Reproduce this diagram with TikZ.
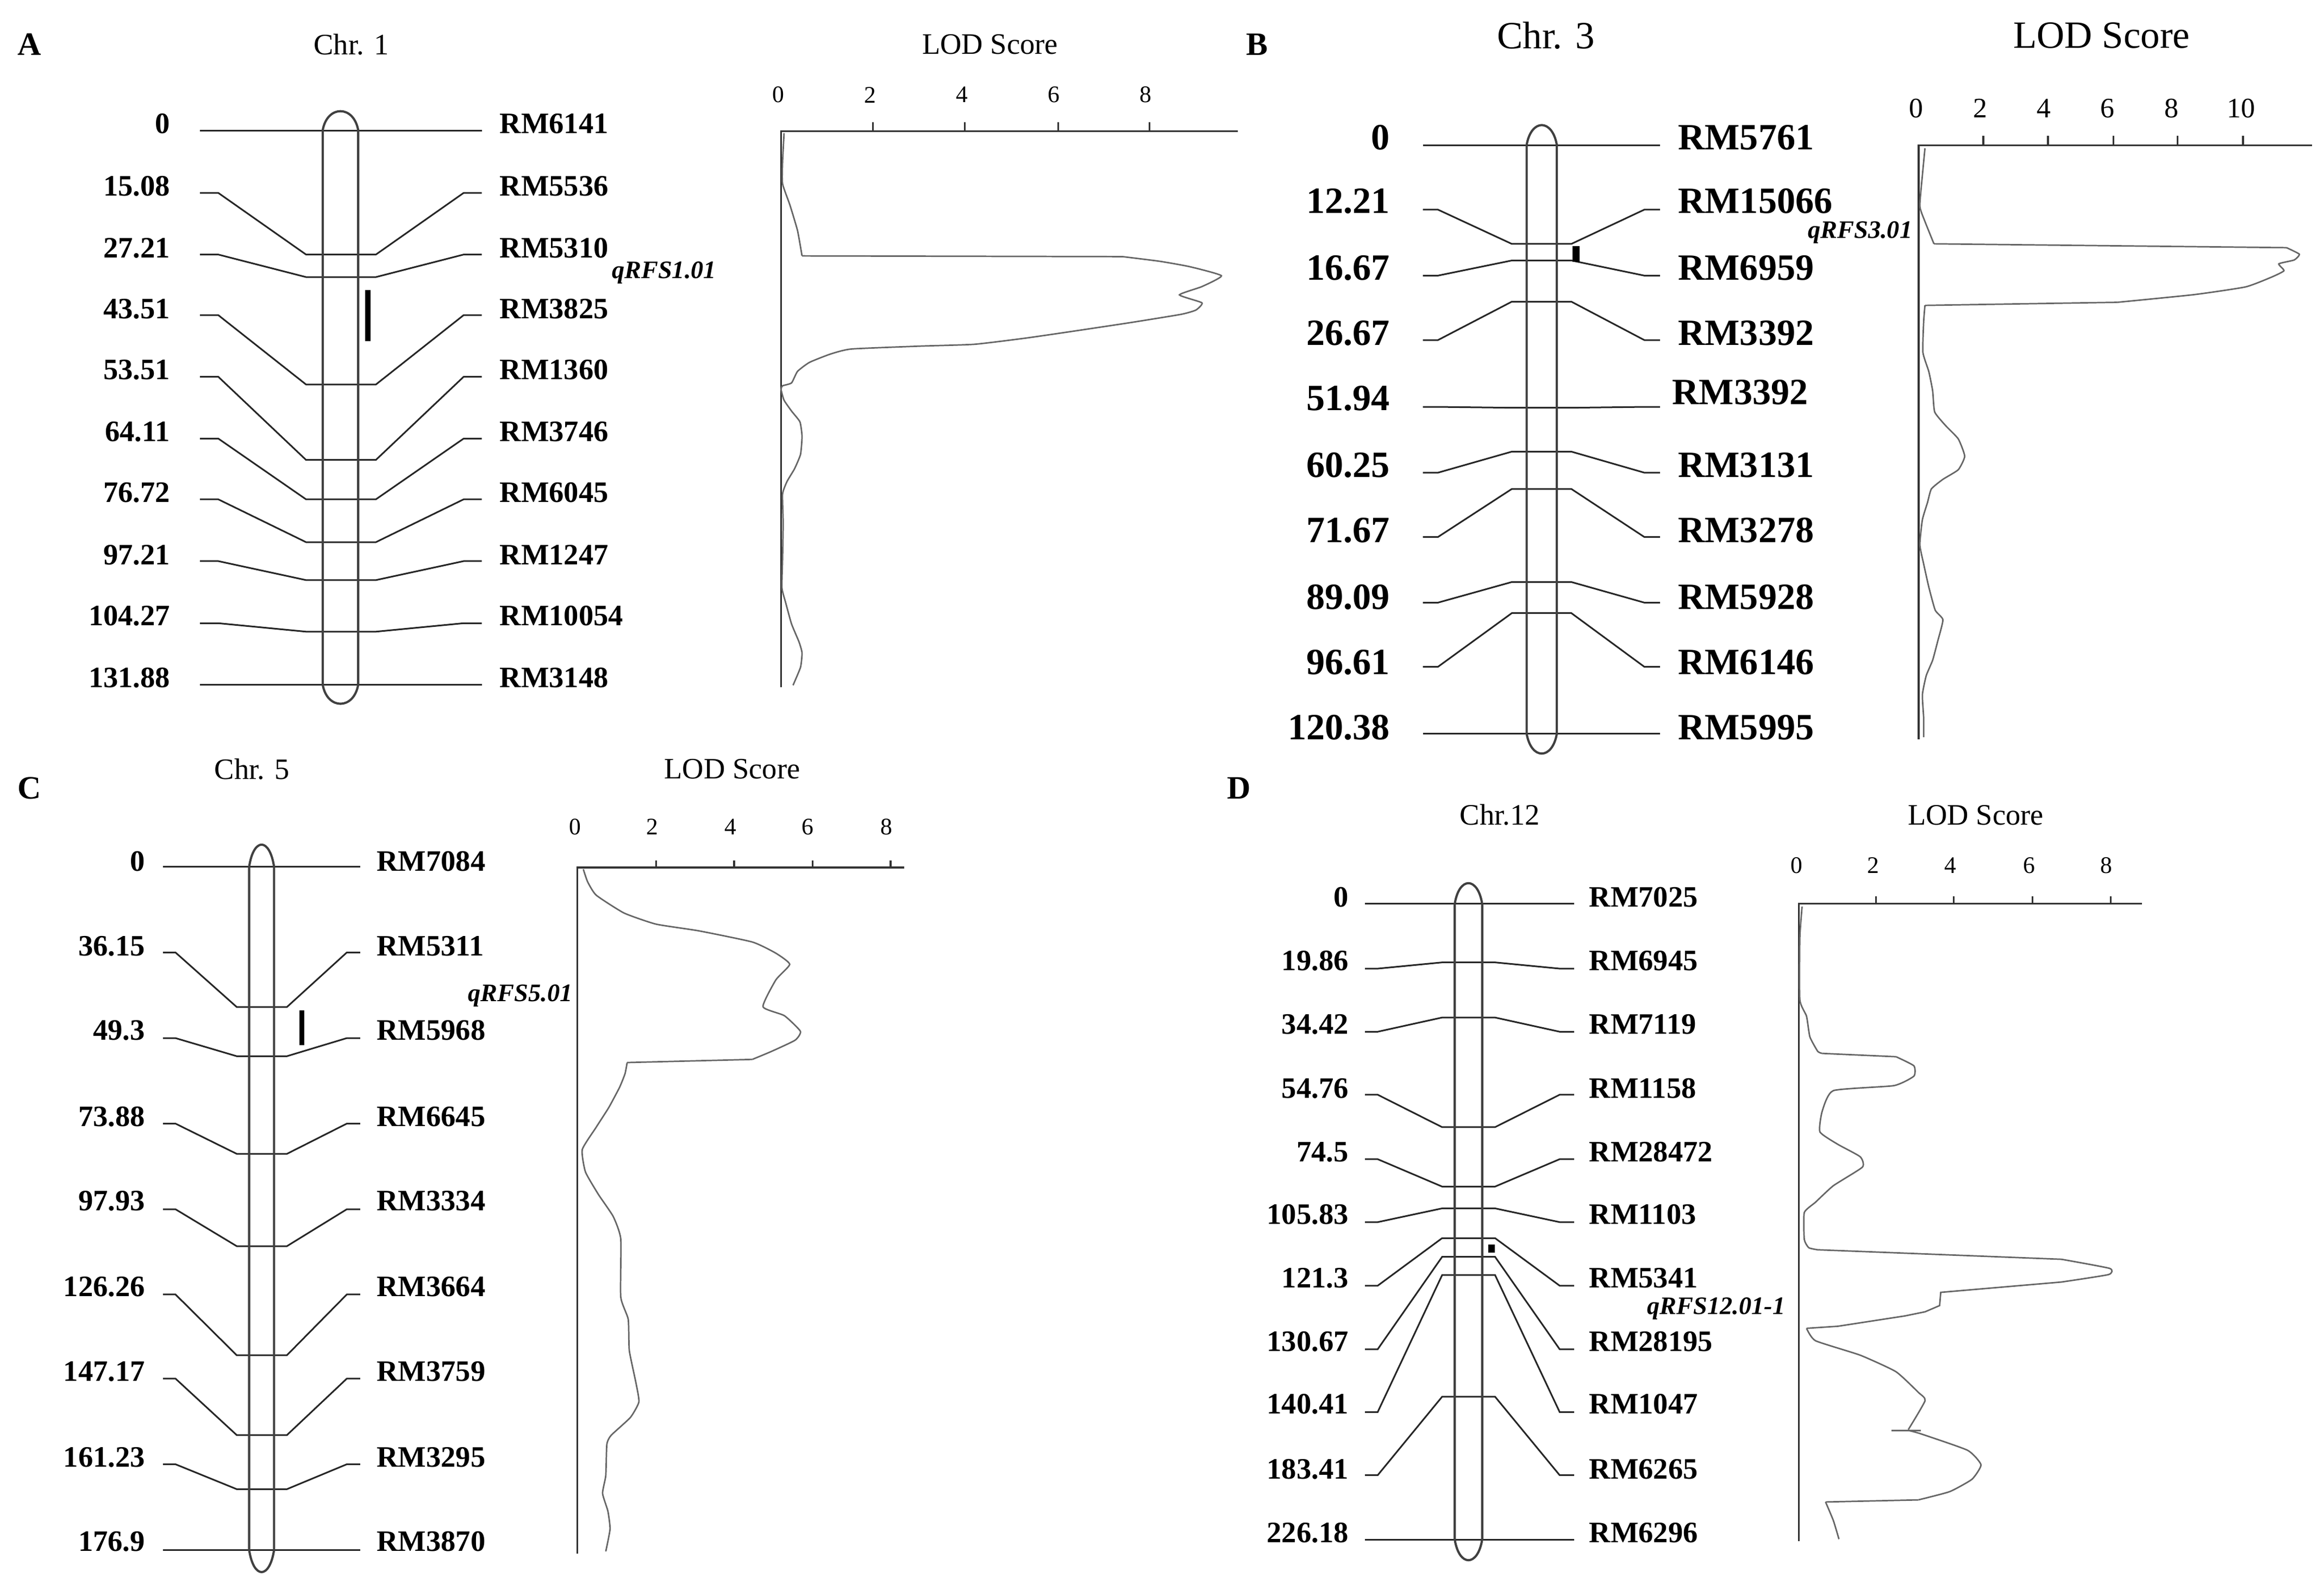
\documentclass[tikz,border=0pt]{standalone}
\usepackage{fontspec}
\setmainfont{Liberation Serif}
\begin{document}
\begin{tikzpicture}[x=1pt,y=-1pt,
  mline/.style={line width=1.1pt,black!85},
  chrom/.style={line width=1.5pt,black!75},
  lod/.style={line width=1pt,black!60},
  axis/.style={line width=1.3pt,black!80},
  qtl/.style={fill=black},
  lab/.style={font=\fontsize{20}{20}\selectfont\bfseries,inner sep=0pt},
  labB/.style={font=\fontsize{25}{25}\selectfont\bfseries,inner sep=0pt},
  head/.style={font=\fontsize{20}{20}\selectfont,inner sep=0pt},
  headB/.style={font=\fontsize{26}{26}\selectfont,inner sep=0pt},
  tick/.style={font=\fontsize{16}{16}\selectfont,inner sep=0pt},
  tickB/.style={font=\fontsize{19}{19}\selectfont,inner sep=0pt},
  qlab/.style={font=\fontsize{17}{17}\selectfont\bfseries\itshape,inner sep=0pt},
  panel/.style={font=\fontsize{22}{22}\selectfont\bfseries,inner sep=0pt}]
\useasboundingbox (0,0) rectangle (1568,1073);
\newcommand\mk[2]{\draw[mline] (\Xa,#1)--(\Xb,#1)--(\Xc,#2)--(\Xd,#2)--(\Xe,#1)--(\Xf,#1);}
\newcommand\chromo[5]{% L R ytop ybot apex-offset
  \draw[chrom] (#1,#3) .. controls (#1+3,#3-#5*1.33) and (#2-3,#3-#5*1.33) .. (#2,#3) -- (#2,#4)
   .. controls (#2-3,#4+#5*1.33) and (#1+3,#4+#5*1.33) .. (#1,#4) -- cycle;}
\newcommand\lb[5]{% style, y, num, rmy, rm
  \node[#1,anchor=base east] at (\NX,#2) {#3};
  \node[#1,anchor=base west] at (\RX,#4) {#5};}

%%%%%%%%%%%% Panel A
\node[panel] (pA) at (20,30) {A};
\node[head] (cA) at (237,30) {Chr. 1};
\node[head] (lA) at (668,30) {LOD Score};
\def\Xa{135}\def\Xb{147.3}\def\Xc{206.5}\def\Xd{253.6}\def\Xe{312.8}\def\Xf{325}
\mk{88}{88}\mk{130.2}{171.8}\mk{171.8}{187}\mk{212.7}{259.5}\mk{254.3}{310.4}
\mk{296}{337}\mk{337}{365.9}\mk{378.7}{391.5}\mk{420.6}{426.3}\mk{462}{462}
\chromo{217.7}{241.7}{88}{462}{13}
\fill[qtl] (246.3,195.9) rectangle (249.9,230.2);
\def\NX{115}\def\RX{337}
\lb{lab}{90}{0}{90}{RM6141}
\lb{lab}{132}{15.08}{132}{RM5536}
\lb{lab}{174}{27.21}{174}{RM5310}
\lb{lab}{215}{43.51}{215}{RM3825}
\lb{lab}{256}{53.51}{256}{RM1360}
\lb{lab}{298}{64.11}{298}{RM3746}
\lb{lab}{339}{76.72}{339}{RM6045}
\lb{lab}{381}{97.21}{381}{RM1247}
\lb{lab}{422}{104.27}{422}{RM10054}
\lb{lab}{464}{131.88}{464}{RM3148}
\node[qlab] (qA) at (448,184) {qRFS1.01};
\foreach \t/\l in {525/0,587/2,649/4,711/6,773/8} \node[tick] at (\t,64) {\l};
\begin{scope}[shift={(519.9,85.05)},xscale=0.2021,yscale=0.2435]
\draw[axis] (35,1555)--(35,14)--(1560,14);
\foreach \t in {342,648,960,1265} \draw[axis] (\t,14)--(\t,-10);
\draw[lod] plot[smooth,tension=0.3] coordinates {(45,20)(40,100)(40,160)(65,220)(90,290)(105,360)};
\draw[lod] (105,360)--(1175,362);
\draw[lod] plot[smooth,tension=0.3] coordinates {(1175,362)(1300,375)(1400,390)(1505,415)(1440,445)(1365,468)(1440,490)(1420,510)(1370,522)(1200,545)(1000,570)(850,588)(680,605)(500,610)(270,618)(200,632)(130,655)(90,680)(70,712)(40,720)(35,730)(45,760)(70,790)(98,820)(105,860)(100,910)(80,950)(55,985)(40,1020)(42,1100)(40,1200)(38,1280)(50,1320)(70,1380)(95,1430)(105,1460)(100,1500)(75,1550)};
\end{scope}

%%%%%%%%%%%% Panel B
\node[panel] (pB) at (848,30) {B};
\node[headB] (cB) at (1043,24) {Chr. 3};
\node[headB] (lB) at (1418,24) {LOD Score};
\def\Xa{960}\def\Xb{970.2}\def\Xc{1020}\def\Xd{1060.2}\def\Xe{1109.4}\def\Xf{1120}
\mk{98}{98}\mk{141.5}{164.6}\mk{186}{175.8}\mk{229.5}{203.6}\mk{274.6}{275.2}
\mk{319}{304.8}\mk{362.4}{330}\mk{406.7}{392.8}\mk{450}{413.8}\mk{495}{495}
\chromo{1030}{1050.4}{98}{495}{13.6}
\fill[qtl] (1061,166) rectangle (1065.6,176.7);
\def\NX{938}\def\RX{1132}
\lb{labB}{101}{0}{101}{RM5761}
\lb{labB}{144}{12.21}{144}{RM15066}
\lb{labB}{189}{16.67}{189}{RM6959}
\lb{labB}{233}{26.67}{233}{RM3392}
\lb{labB}{277}{51.94}{273}{\hspace*{-4pt}RM3392}
\lb{labB}{322}{60.25}{322}{RM3131}
\lb{labB}{366}{71.67}{366}{RM3278}
\lb{labB}{411}{89.09}{411}{RM5928}
\lb{labB}{455}{96.61}{455}{RM6146}
\lb{labB}{499}{120.38}{499}{RM5995}
\node[qlab] (qB) at (1255,157) {qRFS3.01};
\foreach \t/\l in {1293/0,1336/2,1379/4,1422/6,1465/8,1512/10} \node[tickB] at (\t,73) {\l};
\begin{scope}[shift={(1290.1,94.95)},xscale=0.1730,yscale=0.2597]
\draw[axis] (25,1555)--(25,12)--(1560,12);
\foreach \t in {278,530,785,1035,1290} \draw[axis] (\t,12)--(\t,-12);
\draw[lod] plot[smooth,tension=0.3] coordinates {(50,20)(40,90)(30,170)(50,210)(85,268)};
\draw[lod] (85,268)--(1460,278);
\draw[lod] plot[smooth,tension=0.3] coordinates {(1460,278)(1510,295)(1490,310)(1430,320)(1450,338)(1400,355)(1300,380)(1100,400)(800,420)};
\draw[lod] (800,420)--(50,428);
\draw[lod] plot[smooth,tension=0.3] coordinates {(50,428)(45,470)(42,550)(65,600)(80,650)(88,705)(130,740)(180,775)(205,820)(180,855)(120,880)(75,905)(60,940)(40,985)(30,1050)(45,1100)(65,1160)(90,1220)(120,1245)(100,1300)(80,1350)(55,1390)(40,1440)(45,1500)(45,1550)};
\end{scope}

%%%%%%%%%%%% Panel C
\node[panel] (pC) at (20,532) {C};
\node[head] (cC) at (170,519) {Chr. 5};
\node[head] (lC) at (494,519) {LOD Score};
\def\Xa{110}\def\Xb{118.4}\def\Xc{159.7}\def\Xd{193.6}\def\Xe{234}\def\Xf{243}
\mk{585}{585}\mk{642.8}{679.6}\mk{700.6}{712.8}\mk{758.3}{778.7}\mk{816.1}{841}
\mk{873.6}{914.6}\mk{930.4}{968.5}\mk{988.2}{1005}\mk{1046}{1046}
\chromo{168.1}{184.9}{585}{1046}{15}
\fill[qtl] (201.9,682) rectangle (205.2,705.4);
\def\NX{98}\def\RX{254}
\lb{lab}{588}{0}{588}{RM7084}
\lb{lab}{645}{36.15}{645}{RM5311}
\lb{lab}{702}{49.3}{702}{RM5968}
\lb{lab}{760}{73.88}{760}{RM6645}
\lb{lab}{817}{97.93}{817}{RM3334}
\lb{lab}{875}{126.26}{875}{RM3664}
\lb{lab}{932}{147.17}{932}{RM3759}
\lb{lab}{990}{161.23}{990}{RM3295}
\lb{lab}{1047}{176.9}{1047}{RM3870}
\node[qlab] (qC) at (351,672) {qRFS5.01};
\foreach \t/\l in {388/0,440/2,493/4,545/6,598/8} \node[tick] at (\t,558) {\l};
\begin{scope}[shift={(384.9,580)},xscale=0.1443,yscale=0.3013]
\draw[axis] (32,1555)--(32,18)--(1560,18);
\foreach \t in {400,765,1132,1497} \draw[axis] (\t,18)--(\t,2);
\draw[lod] plot[smooth,tension=0.3] coordinates {(60,22)(80,50)(120,80)(250,120)(400,145)(600,160)(850,185)(960,210)(1025,235)(960,270)(900,330)(1000,350)(1075,385)(1050,405)(940,430)(850,448)};
\draw[lod] (850,448)--(265,455);
\draw[lod] plot[smooth,tension=0.3] coordinates {(265,455)(255,480)(230,510)(180,555)(120,600)(55,650)(70,700)(130,750)(200,800)(235,850)(235,980)(270,1030)(275,1100)(305,1170)(320,1215)(280,1250)(190,1290)(170,1310)(165,1380)(150,1420)(175,1460)(185,1500)(165,1550)};
\end{scope}

%%%%%%%%%%%% Panel D
\node[panel] (pD) at (836,532) {D};
\node[head] (cD) at (1012,550) {Chr.12};
\node[head] (lD) at (1333,550) {LOD Score};
\def\Xa{921}\def\Xb{929.5}\def\Xc{973}\def\Xd{1008.7}\def\Xe{1052.3}\def\Xf{1062}
\mk{610}{610}\mk{653.7}{649.5}\mk{696.3}{686.7}\mk{738.8}{760.7}\mk{782.3}{800.8}
\mk{824.8}{815.5}\mk{867.7}{835.6}\mk{910.6}{848.2}\mk{953}{860.5}\mk{995.6}{942.6}\mk{1039}{1039}
\chromo{981.5}{1000}{610}{1039}{14}
\fill[qtl] (1004,840) rectangle (1008.5,845.5);
\def\NX{910}\def\RX{1072}
\lb{lab}{612}{0}{612}{RM7025}
\lb{lab}{655}{19.86}{655}{RM6945}
\lb{lab}{698}{34.42}{698}{RM7119}
\lb{lab}{741}{54.76}{741}{RM1158}
\lb{lab}{784}{74.5}{784}{RM28472}
\lb{lab}{826}{105.83}{826}{RM1103}
\lb{lab}{869}{121.3}{869}{RM5341}
\lb{lab}{912}{130.67}{912}{RM28195}
\lb{lab}{954}{140.41}{954}{RM1047}
\lb{lab}{998}{183.41}{998}{RM6265}
\lb{lab}{1041}{226.18}{1041}{RM6296}
\node[qlab] (qD) at (1158,883) {qRFS12.01-1};
\foreach \t/\l in {1212/0,1264/2,1316/4,1369/6,1421/8} \node[tick] at (\t,584) {\l};
\begin{scope}[shift={(1209.8,604.9)},xscale=0.1509,yscale=0.2790]
\draw[axis] (25,1560)--(25,18)--(1560,18);
\foreach \t in {370,718,1070,1420} \draw[axis] (\t,18)--(\t,0);
\draw[lod] plot[smooth,tension=0.3] coordinates {(40,25)(30,100)(30,250)(60,290)(75,340)(110,375)(130,380)};
\draw[lod] (130,380)--(460,388);
\draw[lod] plot[smooth,tension=0.3] coordinates {(460,388)(540,410)(540,435)(450,458)(180,470)(130,520)(120,570)(200,600)(300,630)(310,655)(180,700)(100,740)(50,765)(50,830)(70,850)(110,855)};
\draw[lod] (110,855)--(1200,878);
\draw[lod] plot[smooth,tension=0.3] coordinates {(1200,878)(1415,900)(1410,915)(1200,933)};
\draw[lod] (1200,933)--(660,958)--(655,990)--(590,1005)--(500,1015)--(200,1040)--(60,1045);
\draw[lod] plot[smooth,tension=0.3] coordinates {(60,1045)(100,1075)(300,1110)(460,1150)(560,1200)(590,1220)(515,1290)};
\draw[lod] (440,1292)--(570,1292);
\draw[lod] plot[smooth,tension=0.3] coordinates {(515,1292)(570,1300)(780,1340)(840,1375)(800,1410)(700,1440)(560,1460)};
\draw[lod] (560,1460)--(145,1465);
\draw[lod] plot[smooth,tension=0.3] coordinates {(145,1465)(180,1510)(205,1555)};
\end{scope}
\end{tikzpicture}
\end{document}
